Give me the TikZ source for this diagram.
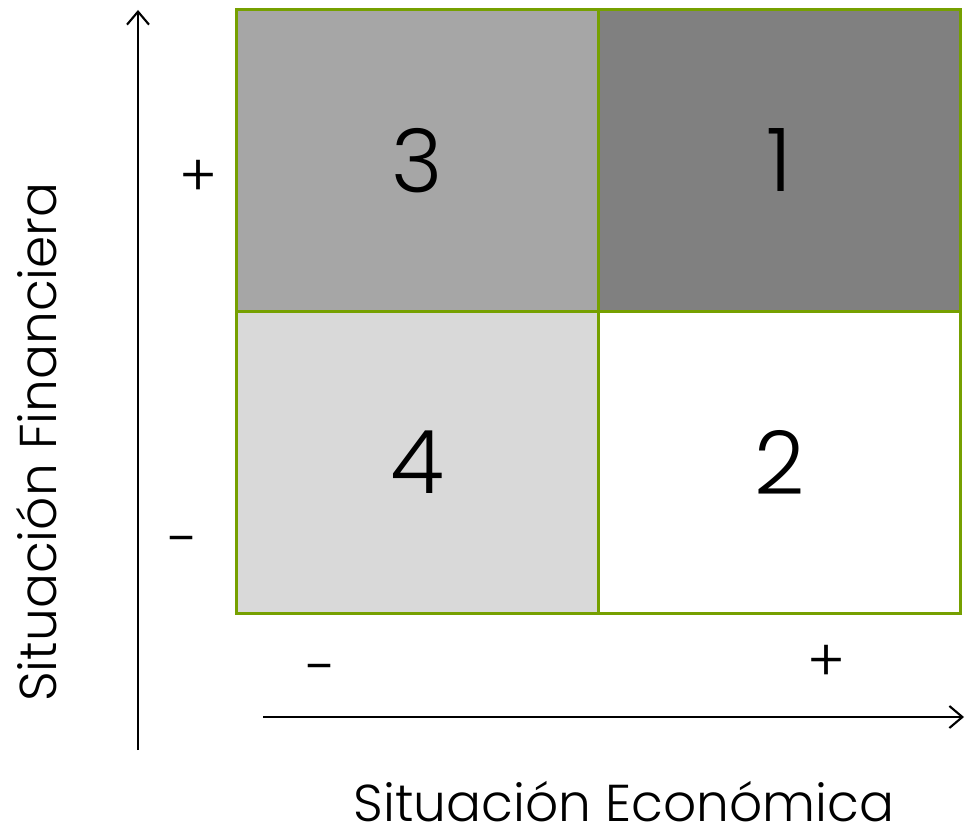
\documentclass[tikz,border=0pt]{standalone}
\usepackage{fontspec}
\setmainfont{Poppins}[UprightFont=* Light]
\usetikzlibrary{positioning,arrows.meta}
\definecolor{frame}{HTML}{76A000}
\definecolor{midgray}{HTML}{A6A6A6}
\definecolor{darkgray}{HTML}{808080}
\definecolor{lightgray}{HTML}{D9D9D9}
\definecolor{ink}{HTML}{000000}

\begin{document}
\begin{tikzpicture}[
	x=0.02cm, y=-0.02cm,
	  >={Straight Barb[length=2.6mm, width=4.4mm, line width=1.2pt]},
	    cell/.style={draw=frame, line width=1.6pt, anchor=north west, inner sep=0pt,
	      minimum width=7.24cm, minimum height=6.04cm, font=\fontsize{50}{50}\selectfont},
	        sign/.style={font=\fontsize{33}{33}\selectfont},
	          axis/.style={->, ink, line width=1.5pt},
	            title/.style={font=\fontsize{29.5}{29.5}\selectfont, inner sep=0pt}
	            ]
	            \useasboundingbox (0,0) rectangle (966,831);
	            % quadrants
	            \node[cell, fill=lightgray] (q4) at (235,310) {4};
	            \node[cell, fill=white] (q2) at (597,310) {2};
	            \node[cell, fill=midgray] (q3) at (235,8) {3};
	            \node[cell, fill=darkgray] (q1) at (597,8) {1};
	            % axes
	            \coordinate (yfoot) at (138,750);
	            \coordinate (yhead) at (138,10);
	            \coordinate (xfoot) at (263,717);
	            \coordinate (xhead) at (964,717);
	            \draw[axis] (yfoot) -- (yhead);
	            \draw[axis] (xfoot) -- (xhead);
	            % signs
	            \node[sign] (yplus) at (198,178) {+};
	            \node[sign] (yminus) at (184,548) {-};
	            \node[sign] (xminus) at (322,676) {-};
	            \node[sign] (xplus) at (826,663) {+};
	            % axis titles
	            \node[title, rotate=90, anchor=base] (fin) at (56,442) {Situación Financiera};
	            \node[title, anchor=base] (eco) at (624,821) {Situación Económica};
	            \end{tikzpicture}
\end{document}
